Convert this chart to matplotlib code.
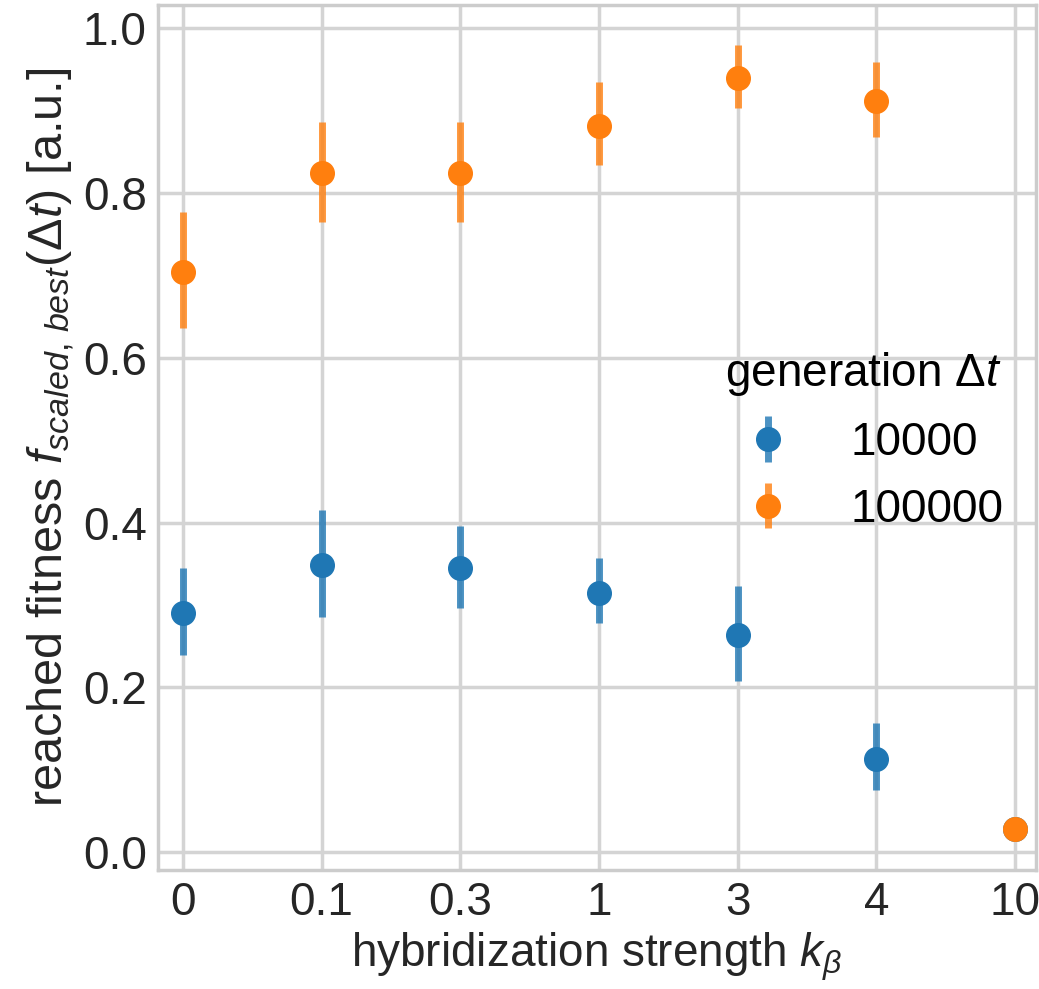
import matplotlib.pyplot as plt
import numpy as np
from matplotlib.colors import to_rgba

# hybridization strength categories (drawn as evenly spaced categories)
k_beta = ["0", "0.1", "0.3", "1", "3", "4", "10"]

# generation 10000
fit_10k = [0.290, 0.348, 0.345, 0.314, 0.263, 0.113, 0.028]
lo_10k = [0.239, 0.285, 0.296, 0.278, 0.208, 0.075, 0.028]
hi_10k = [0.345, 0.415, 0.396, 0.357, 0.323, 0.157, 0.028]

# generation 100000
fit_100k = [0.704, 0.824, 0.824, 0.881, 0.939, 0.911, 0.028]
lo_100k = [0.636, 0.765, 0.765, 0.834, 0.903, 0.868, 0.028]
hi_100k = [0.777, 0.886, 0.886, 0.934, 0.979, 0.959, 0.028]

series = [("10000", fit_10k, lo_10k, hi_10k, "#1f77b4"),
          ("100000", fit_100k, lo_100k, hi_100k, "#ff7f0e")]

plt.rcParams['font.family'] = ['Liberation Sans', 'DejaVu Sans']
plt.rcParams['mathtext.fontset'] = 'custom'
plt.rcParams['mathtext.it'] = 'Liberation Sans:italic'
plt.rcParams['mathtext.rm'] = 'Liberation Sans'

FS = 33

fig = plt.figure(figsize=(10.39, 9.89), dpi=100)
ax = fig.add_axes([0.152, 0.120, 0.845, 0.875])

x = np.arange(len(k_beta))
for label, val, lo, hi, col in series:
    val = np.array(val)
    err = np.vstack([val - np.array(lo), np.array(hi) - val])
    ax.errorbar(x, val, yerr=err, fmt='o', color=col, ecolor=to_rgba(col, 0.8),
                elinewidth=5, markersize=17, label=label, zorder=3)

ax.set_xticks(x)
ax.set_xticklabels(k_beta)
ax.set_xlim(-0.18, 6.15)
ax.set_ylim(-0.022, 1.028)
ax.set_yticks([0.0, 0.2, 0.4, 0.6, 0.8, 1.0])
ax.set_yticklabels(["0.0", "0.2", "0.4", "0.6", "0.8", "1.0"])

ax.grid(True, color='#d4d4d4', linewidth=2.5, zorder=0)
ax.set_axisbelow(True)
for sp in ax.spines.values():
    sp.set_color('#cccccc')
    sp.set_linewidth(2.5)
ax.tick_params(length=0, labelsize=FS, colors='#262626', pad=8)

ax.set_xlabel(r"hybridization strength $k_\beta$", fontsize=FS,
              color='#262626', labelpad=4)
ax.set_ylabel(r"reached fitness $f_{scaled,\,best}(\Delta t)$ [a.u.]",
              fontsize=35, color='#262626', labelpad=4)

leg = ax.legend(title=r"generation $\Delta t$", frameon=False, fontsize=FS,
                title_fontsize=FS, loc='upper left', borderpad=0,
                bbox_to_anchor=(0.617, 0.628))

fig.savefig("out.png", dpi=100)
